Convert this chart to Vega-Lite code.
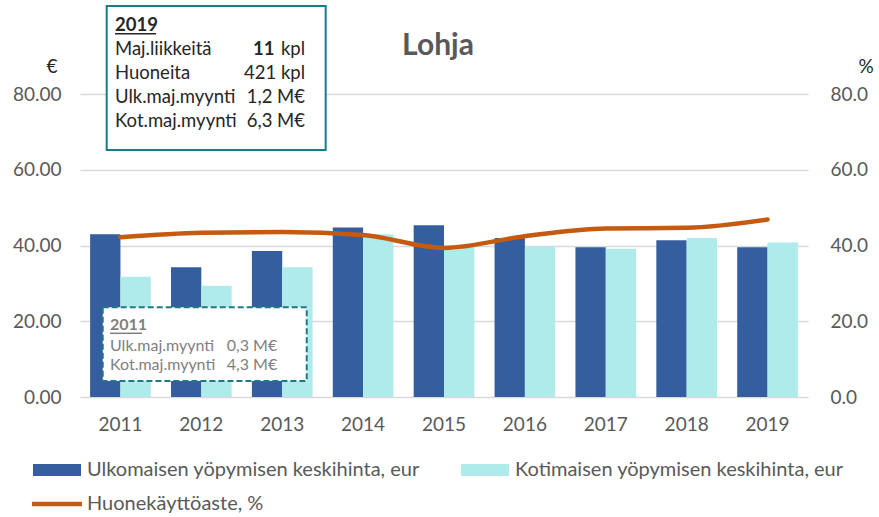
{
  "$schema": "https://vega.github.io/schema/vega-lite/v6.json",
  "width": 728,
  "height": 397,
  "autosize": {"type": "none"},
  "padding": {"left": 80, "top": 0, "right": 71, "bottom": 120},
  "background": "white",
  "title": {"text": "Lohja", "font": "Lato", "fontSize": 30, "fontWeight": "bold", "color": "#595959", "anchor": "middle", "frame": "group", "baseline": "alphabetic", "offset": -85, "dx": -6},
  "datasets": {
    "main": [
      {"year": "2011", "ulk": 43.0, "kot": 31.8, "kaytto": 42.2},
      {"year": "2012", "ulk": 34.3, "kot": 29.4, "kaytto": 43.4},
      {"year": "2013", "ulk": 38.6, "kot": 34.3, "kaytto": 43.6},
      {"year": "2014", "ulk": 44.8, "kot": 43.0, "kaytto": 42.8},
      {"year": "2015", "ulk": 45.4, "kot": 39.7, "kaytto": 39.4},
      {"year": "2016", "ulk": 42.0, "kot": 39.7, "kaytto": 42.5},
      {"year": "2017", "ulk": 39.6, "kot": 39.2, "kaytto": 44.5},
      {"year": "2018", "ulk": 41.4, "kot": 42.0, "kaytto": 44.7},
      {"year": "2019", "ulk": 39.6, "kot": 40.8, "kaytto": 46.9}
    ],
    "notes": [
      {"id": "h19", "t": "2019"},
      {"id": "l19", "t": ["Maj.liikkeitä", "Huoneita", "Ulk.maj.myynti", "Kot.maj.myynti"]},
      {"id": "v19", "t": ["kpl", "421 kpl", "1,2 M€", "6,3 M€"]},
      {"id": "b19", "t": "11"},
      {"id": "h11", "t": "2011"},
      {"id": "l11", "t": ["Ulk.maj.myynti", "Kot.maj.myynti"]},
      {"id": "v11", "t": ["0,3 M€", "4,3 M€"]}
    ]
  },
  "layer": [
    {
      "data": {"name": "main"},
      "transform": [{"fold": ["ulk", "kot"], "as": ["series", "value"]}],
      "mark": {"type": "bar"},
      "encoding": {
        "x": {"field": "year", "type": "nominal", "scale": {"paddingInner": 0.25, "paddingOuter": 0.125},
          "axis": {"title": null, "domain": false, "ticks": false, "labelAngle": 0, "labelPadding": 18, "labelFont": "Lato", "labelFontSize": 19, "labelColor": "#595959"}},
        "xOffset": {"field": "series", "type": "nominal", "sort": ["ulk", "kot"]},
        "y": {"field": "value", "type": "quantitative", "scale": {"domain": [0, 104.9], "nice": false, "zero": true},
          "axis": {"values": [0, 20, 40, 60, 80], "format": ".2f", "grid": true, "gridColor": "#D9D9D9", "gridWidth": 1.5, "domain": false, "ticks": false, "labelPadding": 19, "labelFont": "Lato", "labelFontSize": 19, "labelColor": "#595959",
            "title": "€", "titleAngle": 0, "titleAlign": "right", "titleBaseline": "alphabetic", "titleX": -23, "titleY": 72, "titleFont": "Lato", "titleFontSize": 19, "titleFontWeight": "normal", "titleColor": "#262626"}},
        "color": {"field": "series", "type": "nominal",
          "scale": {"domain": ["ulk", "kot", "kaytto"], "range": ["#355E9F", "#AEEBEA", "#C55A11"]},
          "legend": {"orient": "none", "legendX": -47, "legendY": 446, "direction": "horizontal", "columns": 2, "title": null, "labelLimit": 0,
            "labelExpr": "datum.value === 'ulk' ? 'Ulkomaisen yöpymisen keskihinta, eur' : datum.value === 'kot' ? 'Kotimaisen yöpymisen keskihinta, eur' : 'Huonekäyttöaste, %'",
            "labelFont": "Lato", "labelFontSize": 20, "labelColor": "#595959", "symbolSize": 2304, "labelOffset": 6, "columnPadding": 41, "rowPadding": -7, "padding": 0,
            "encode": {"symbols": {"update": {
              "shape": {"signal": "datum.value === 'kaytto' ? 'M-1.04,-0.094H1.04V0.094H-1.04Z' : 'M-1,-0.25H1V0.25H-1Z'"},
              "fill": {"scale": "color", "field": "value"},
              "stroke": {"value": "transparent"},
              "strokeWidth": {"value": 0},
              "opacity": {"value": 1}
            }}}}
        }
      }
    },
    {
      "data": {"name": "main"},
      "mark": {"type": "line", "interpolate": "monotone", "strokeWidth": 4.5, "strokeCap": "round"},
      "encoding": {
        "x": {"field": "year", "type": "nominal", "axis": null},
        "y": {"field": "kaytto", "type": "quantitative", "scale": {"domain": [0, 104.9], "nice": false, "zero": true},
          "axis": {"orient": "right", "values": [0, 20, 40, 60, 80], "format": ".1f", "grid": false, "domain": false, "ticks": false, "labelPadding": 22, "labelFont": "Lato", "labelFontSize": 19, "labelColor": "#595959",
            "title": "%", "titleAngle": 0, "titleAlign": "left", "titleBaseline": "alphabetic", "titleX": 50, "titleY": 72, "titleFont": "Lato", "titleFontSize": 19, "titleFontWeight": "normal", "titleColor": "#262626"}},
        "color": {"datum": "kaytto", "type": "nominal"}
      }
    },
    {
      "data": {"values": [{}]},
      "mark": {"type": "rect", "fill": "white", "stroke": "#1B7A8A", "strokeWidth": 2},
      "encoding": {
        "x": {"datum": 0.33, "type": "quantitative", "scale": {"domain": [0, 9], "nice": false}, "axis": null},
        "x2": {"datum": 3.037},
        "y": {"datum": 103.31, "type": "quantitative", "scale": {"domain": [0, 104.9], "nice": false}, "axis": null},
        "y2": {"datum": 65.25}
      }
    },
    {
      "data": {"values": [{}]},
      "mark": {"type": "rect", "fill": "white", "stroke": "#1B7A8A", "strokeWidth": 2, "strokeDash": [6, 3]},
      "encoding": {
        "x": {"datum": 0.281, "type": "quantitative", "scale": {"domain": [0, 9], "nice": false}, "axis": null},
        "x2": {"datum": 2.803},
        "y": {"datum": 23.7, "type": "quantitative", "scale": {"domain": [0, 104.9], "nice": false}, "axis": null},
        "y2": {"datum": 4.23}
      }
    },
    {
      "data": {"name": "notes"},
      "transform": [{"filter": {"field": "id", "equal": "h19"}}],
      "mark": {"type": "text", "align": "left", "baseline": "alphabetic", "font": "Lato", "fontSize": 18.5, "fontWeight": "bold", "color": "#262626"},
      "encoding": {
        "x": {"datum": 0.433, "type": "quantitative", "scale": {"domain": [0, 9], "nice": false}, "axis": null},
        "y": {"datum": 96.79, "type": "quantitative", "scale": {"domain": [0, 104.9], "nice": false}, "axis": null},
        "text": {"field": "t"}
      }
    },
    {
      "data": {"values": [{}]},
      "mark": {"type": "rule", "stroke": "#262626", "strokeWidth": 1.5},
      "encoding": {
        "x": {"datum": 0.433, "type": "quantitative", "scale": {"domain": [0, 9], "nice": false}, "axis": null},
        "x2": {"datum": 0.94},
        "y": {"datum": 95.99, "type": "quantitative", "scale": {"domain": [0, 104.9], "nice": false}, "axis": null}
      }
    },
    {
      "data": {"name": "notes"},
      "transform": [{"filter": {"field": "id", "equal": "l19"}}],
      "mark": {"type": "text", "align": "left", "baseline": "alphabetic", "font": "Lato", "fontSize": 18.5, "lineHeight": 24, "color": "#262626"},
      "encoding": {
        "x": {"datum": 0.433, "type": "quantitative", "scale": {"domain": [0, 9], "nice": false}, "axis": null},
        "y": {"datum": 90.29, "type": "quantitative", "scale": {"domain": [0, 104.9], "nice": false}, "axis": null},
        "text": {"field": "t"}
      }
    },
    {
      "data": {"name": "notes"},
      "transform": [{"filter": {"field": "id", "equal": "v19"}}],
      "mark": {"type": "text", "align": "right", "baseline": "alphabetic", "font": "Lato", "fontSize": 18.5, "lineHeight": 24, "color": "#262626"},
      "encoding": {
        "x": {"datum": 2.782, "type": "quantitative", "scale": {"domain": [0, 9], "nice": false}, "axis": null},
        "y": {"datum": 90.29, "type": "quantitative", "scale": {"domain": [0, 104.9], "nice": false}, "axis": null},
        "text": {"field": "t"}
      }
    },
    {
      "data": {"name": "notes"},
      "transform": [{"filter": {"field": "id", "equal": "b19"}}],
      "mark": {"type": "text", "align": "right", "baseline": "alphabetic", "font": "Lato", "fontSize": 18.5, "fontWeight": "bold", "color": "#262626"},
      "encoding": {
        "x": {"datum": 2.405, "type": "quantitative", "scale": {"domain": [0, 9], "nice": false}, "axis": null},
        "y": {"datum": 90.29, "type": "quantitative", "scale": {"domain": [0, 104.9], "nice": false}, "axis": null},
        "text": {"field": "t"}
      }
    },
    {
      "data": {"name": "notes"},
      "transform": [{"filter": {"field": "id", "equal": "h11"}}],
      "mark": {"type": "text", "align": "left", "baseline": "alphabetic", "font": "Lato", "fontSize": 16, "fontWeight": "bold", "color": "#7F7F7F"},
      "encoding": {
        "x": {"datum": 0.371, "type": "quantitative", "scale": {"domain": [0, 9], "nice": false}, "axis": null},
        "y": {"datum": 17.7, "type": "quantitative", "scale": {"domain": [0, 104.9], "nice": false}, "axis": null},
        "text": {"field": "t"}
      }
    },
    {
      "data": {"values": [{}]},
      "mark": {"type": "rule", "stroke": "#7F7F7F", "strokeWidth": 1.5},
      "encoding": {
        "x": {"datum": 0.371, "type": "quantitative", "scale": {"domain": [0, 9], "nice": false}, "axis": null},
        "x2": {"datum": 0.766},
        "y": {"datum": 16.83, "type": "quantitative", "scale": {"domain": [0, 104.9], "nice": false}, "axis": null}
      }
    },
    {
      "data": {"name": "notes"},
      "transform": [{"filter": {"field": "id", "equal": "l11"}}],
      "mark": {"type": "text", "align": "left", "baseline": "alphabetic", "font": "Lato", "fontSize": 16, "lineHeight": 19.3, "color": "#7F7F7F"},
      "encoding": {
        "x": {"datum": 0.371, "type": "quantitative", "scale": {"domain": [0, 9], "nice": false}, "axis": null},
        "y": {"datum": 12.23, "type": "quantitative", "scale": {"domain": [0, 104.9], "nice": false}, "axis": null},
        "text": {"field": "t"}
      }
    },
    {
      "data": {"name": "notes"},
      "transform": [{"filter": {"field": "id", "equal": "v11"}}],
      "mark": {"type": "text", "align": "right", "baseline": "alphabetic", "font": "Lato", "fontSize": 16, "lineHeight": 19.3, "color": "#7F7F7F"},
      "encoding": {
        "x": {"datum": 2.438, "type": "quantitative", "scale": {"domain": [0, 9], "nice": false}, "axis": null},
        "y": {"datum": 12.23, "type": "quantitative", "scale": {"domain": [0, 104.9], "nice": false}, "axis": null},
        "text": {"field": "t"}
      }
    }
  ],
  "resolve": {"scale": {"x": "independent", "y": "independent"}},
  "config": {"view": {"stroke": null}}
}
